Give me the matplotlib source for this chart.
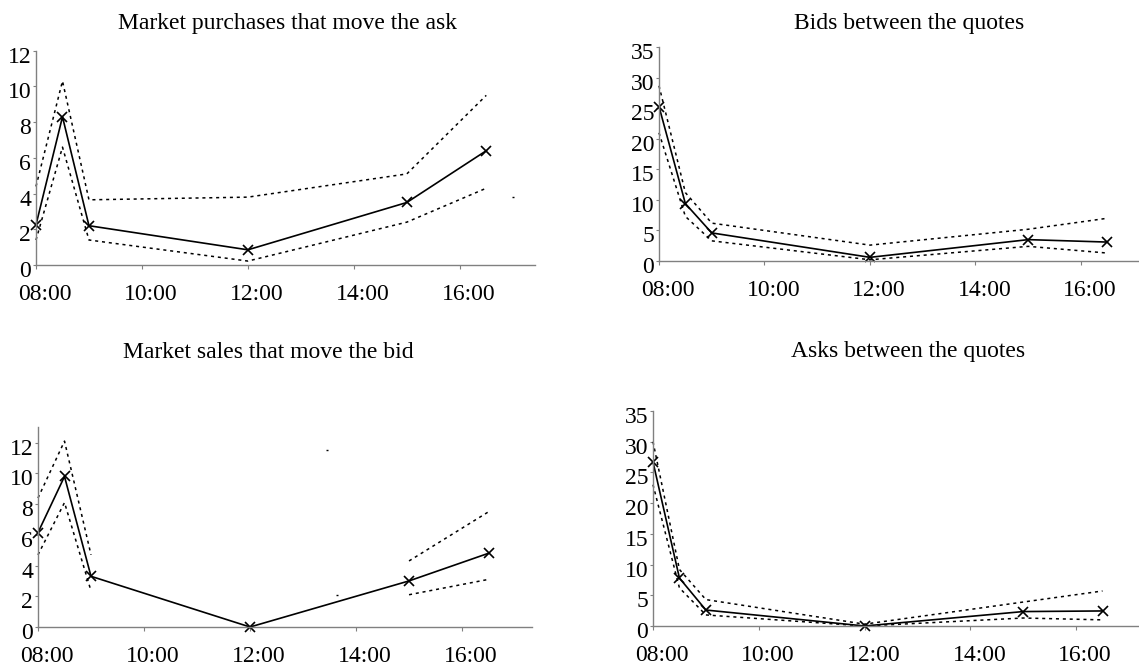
import numpy as np
import matplotlib
matplotlib.use("Agg")
import matplotlib.pyplot as plt
from matplotlib.transforms import Affine2D

plt.rcParams['font.family'] = ['Liberation Serif', 'DejaVu Serif']
plt.rcParams['font.size'] = 17

# time of day in hours
hours = [8, 8.5, 9, 12, 15, 16.5]
hour_ticks = [8, 10, 12, 14, 16]
hour_labels = ['08:00', '10:00', '12:00', '14:00', '16:00']

buy_mean = [2.25, 8.3, 2.2, 0.85, 3.5, 6.4]
buy_upper = [4.4, 10.3, 3.65, 3.8, 5.1, 9.5]
buy_lower = [1.4, 6.6, 1.4, 0.22, 2.4, 4.3]

bid_mean = [25.3, 9.4, 4.6, 0.6, 3.5, 3.1]
bid_upper = [28.7, 11.2, 6.2, 2.6, 5.2, 7.0]
bid_lower = [21.0, 7.3, 3.3, 0.2, 2.4, 1.3]

sell_mean = [6.15, 9.8, 3.3, 0.0, 3.0, 4.8]
sell_upper = [8.4, 12.1, 4.7, np.nan, 4.3, 7.5]
sell_lower = [4.7, 8.1, 2.35, np.nan, 2.1, 3.1]

ask_mean = [26.7, 7.8, 2.6, 0.0, 2.35, 2.45]
ask_upper = [30.0, 9.2, 4.3, 0.3, 3.9, 5.7]
ask_lower = [23.0, 6.2, 1.8, 0.0, 1.3, 1.0]

# stray specks left in the source picture
buy_speck_x, buy_speck_y = [17.0], [3.8]
sell_speck_x, sell_speck_y = [13.45, 13.65], [11.5, 2.07]

W, H = 1139, 666
fig = plt.figure(figsize=(W / 100, H / 100), dpi=100)


def rect(left, right, bottom, top):
    return [left / W, 1 - bottom / H, (right - left) / W, (bottom - top) / H]


panels = [
    (rect(36, 535, 265, 50.7), 'Market purchases that move the ask', (288, 24),
     12, range(0, 13, 2), 17.42, buy_mean, buy_upper, buy_lower,
     (buy_speck_x, buy_speck_y)),
    (rect(659, 1139, 261, 47.3), 'Bids between the quotes', (909, 24),
     35, range(0, 36, 5), 17.1, bid_mean, bid_upper, bid_lower, None),
    (rect(38, 532, 627, 427.3), 'Market sales that move the bid', (268, 352),
     13, range(0, 13, 2), 17.32, sell_mean, sell_upper, sell_lower,
     (sell_speck_x, sell_speck_y)),
    (rect(653, 1139, 626, 411), 'Asks between the quotes', (908, 352),
     35, range(0, 36, 5), 17.19, ask_mean, ask_upper, ask_lower, None),
]

for box, title, (tx, ty), ymax, yticks, xmax, mean, upper, lower, specks in panels:
    ax = fig.add_axes(box)
    ax.plot(hours, upper, color='black', lw=1.1, ls=(0, (2, 2.5)), clip_on=False)
    ax.plot(hours, lower, color='black', lw=1.1, ls=(0, (2, 2.5)), clip_on=False)
    ax.plot(hours, mean, color='black', lw=1.2, marker='x', ms=7, mew=1.2,
            clip_on=False)
    if specks is not None:
        ax.plot(specks[0], specks[1], ls='none', marker='_', ms=1.5,
                mew=1.0, color='black')
    ax.set_xlim(8, xmax)
    ax.set_ylim(0, ymax)
    ax.set_xticks(hour_ticks, hour_labels)
    ax.set_yticks(list(yticks))
    for s in ['top', 'right']:
        ax.spines[s].set_visible(False)
    for s in ['left', 'bottom']:
        ax.spines[s].set_color('#808080')
        ax.spines[s].set_linewidth(1.0)
    ax.tick_params(axis='x', direction='out', length=3, width=0.8,
                   color='#808080', pad=10.5)
    ax.tick_params(axis='y', direction='out', length=2.5, width=0.8,
                   color='#808080', pad=1)
    for lab in ax.get_xticklabels():
        lab.set_transform(lab.get_transform() + Affine2D().translate(9, 0))
    for lab in ax.get_yticklabels():
        lab.set_transform(lab.get_transform() + Affine2D().translate(0, -4))
    fig.text(tx / W, 1 - ty / H, title, ha='center', va='center', fontsize=17)

fig.savefig('out.png', dpi=100)
